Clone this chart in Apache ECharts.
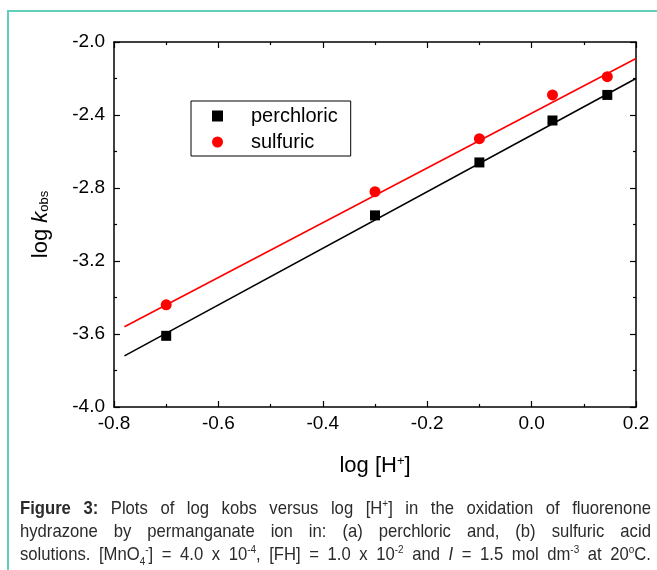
<!DOCTYPE html>
<html>
<head>
    <meta charset="utf-8">
    <script src="https://cdn.jsdelivr.net/npm/echarts@6/dist/echarts.min.js"></script>
    <style>
        body { margin: 0; background: #fff; }
        .frame {
            position: absolute; left: 7px; top: 10px;
            width: 660px; height: 570px;
            border-top: 2px solid #62cfba;
            border-left: 2px solid #62cfba;
        }
        #main { position: absolute; left: 0; top: 0; width: 657px; height: 570px; }
        .caption {
            position: absolute; left: 20px; top: 496px; width: 701px;
            transform: scaleX(0.9); transform-origin: left top;
            font-family: "Liberation Sans", Arial, sans-serif;
            font-size: 18.5px; line-height: 23px; color: #2b2b2b;
        }
        .caption div { text-align: justify; text-align-last: justify; }
        .caption sup, .caption sub { font-size: 11px; line-height: 0; }
    </style>
</head>
<body>
<div class="frame"></div>
<div id="main"></div>
<div class="caption">
    <div><b>Figure 3:</b> Plots of log kobs versus log [H<sup>+</sup>] in the oxidation of fluorenone</div>
    <div>hydrazone by permanganate ion in: (a) perchloric and, (b) sulfuric acid</div>
    <div>solutions. [MnO<sub>4</sub><sup>-</sup>] = 4.0 x 10<sup>-4</sup>, [FH] = 1.0 x 10<sup>-2</sup> and <i>I</i> = 1.5 mol dm<sup>-3</sup> at 20<sup>o</sup>C.</div>
</div>
<script type="text/javascript">
    // measured points
    var logH = [-0.7, -0.3, -0.1, 0.04, 0.145];
    var perchloric = [-3.61, -2.95, -2.66, -2.43, -2.29];
    var sulfuric = [-3.44, -2.82, -2.53, -2.29, -2.19];
    // fitted lines (end points)
    var fitX = [-0.78, 0.2];
    var perchloricFit = [-3.72, -2.20];
    var sulfuricFit = [-3.56, -2.09];

    function pairs(xs, ys) {
        return xs.map(function (x, i) { return [x, ys[i]]; });
    }

    var font = 'Liberation Sans, Arial, sans-serif';
    var myChart = echarts.init(document.getElementById('main'));

    var tickCommon = {
        axisLine: {onZero: false, lineStyle: {color: '#000', width: 1.5}},
        axisTick: {inside: true, length: 6, lineStyle: {color: '#000', width: 1.2}},
        minorTick: {show: true, splitNumber: 2, length: 3, lineStyle: {color: '#000', width: 1.2}},
        splitLine: {show: false}
    };

    myChart.setOption({
        backgroundColor: 'transparent',
        animation: false,
        grid: {left: 114, top: 42, width: 522, height: 365},
        legend: {
            left: 191, top: 101, orient: 'vertical',
            borderColor: '#000', borderWidth: 1,
            padding: [5, 13, 4, 21], itemGap: 6,
            itemWidth: 11, itemHeight: 11,
            data: ['perchloric', 'sulfuric'],
            textStyle: {fontFamily: font, fontSize: 20, color: '#000', lineHeight: 20, padding: [0, 0, 0, 23]}
        },
        xAxis: [
            Object.assign({
                type: 'value', min: -0.8, max: 0.2, interval: 0.2,
                name: '{t|log [H}{s|+}{t|]}', nameLocation: 'middle', nameGap: 48,
                nameTextStyle: {rich: {
                    t: {fontFamily: font, fontSize: 22, color: '#000'},
                    s: {fontFamily: font, fontSize: 13, color: '#000', verticalAlign: 'top', padding: [0, 0, 8, 0]}
                }},
                axisLabel: {fontFamily: font, fontSize: 19, color: '#000', margin: 7,
                    formatter: function (v) { return v.toFixed(1); }}
            }, tickCommon),
            Object.assign({
                type: 'value', position: 'top', min: -0.8, max: 0.2, interval: 0.2,
                axisLabel: {show: false}
            }, tickCommon)
        ],
        yAxis: [
            Object.assign({
                type: 'value', min: -4.0, max: -2.0, interval: 0.4,
                name: '{t|log }{k|k}{s|obs}', nameLocation: 'middle', nameGap: 62, nameRotate: 90,
                nameTextStyle: {rich: {
                    t: {fontFamily: font, fontSize: 22, color: '#000'},
                    k: {fontFamily: font, fontSize: 22, color: '#000', fontStyle: 'italic'},
                    s: {fontFamily: font, fontSize: 13, color: '#000', padding: [6, 0, 0, 0]}
                }},
                axisLabel: {fontFamily: font, fontSize: 19, color: '#000', margin: 9,
                    formatter: function (v) { return v.toFixed(1); }}
            }, tickCommon),
            Object.assign({
                type: 'value', position: 'right', min: -4.0, max: -2.0, interval: 0.4,
                axisLabel: {show: false}
            }, tickCommon)
        ],
        series: [
            {
                name: 'perchloric fit', type: 'line', data: pairs(fitX, perchloricFit),
                showSymbol: false, lineStyle: {color: '#000', width: 1.6}, z: 1
            },
            {
                name: 'sulfuric fit', type: 'line', data: pairs(fitX, sulfuricFit),
                showSymbol: false, lineStyle: {color: '#ff0000', width: 1.6}, z: 1
            },
            {
                name: 'perchloric', type: 'scatter', data: pairs(logH, perchloric),
                symbol: 'rect', symbolSize: 10, itemStyle: {color: '#000', opacity: 1}, z: 3
            },
            {
                name: 'sulfuric', type: 'scatter', data: pairs(logH, sulfuric),
                symbol: 'circle', symbolSize: 11, itemStyle: {color: '#ff0000', opacity: 1}, z: 3
            }
        ]
    });
</script>
</body>
</html>
